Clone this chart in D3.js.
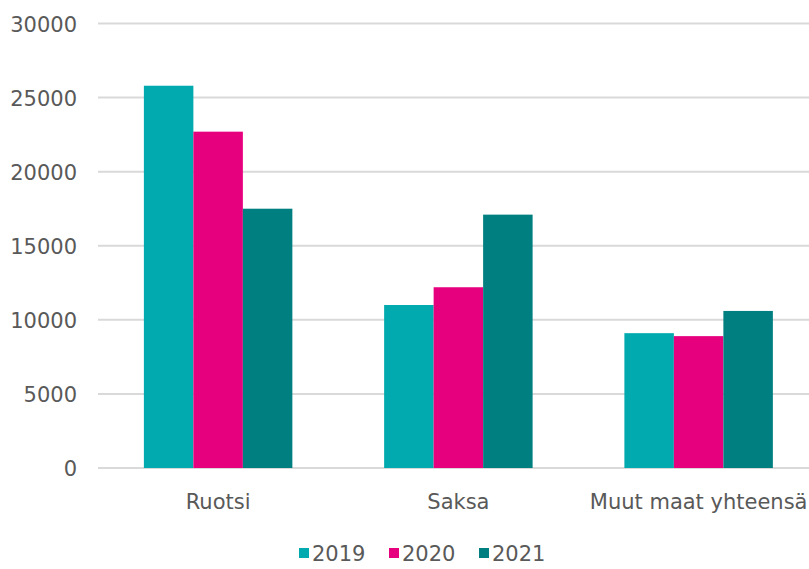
<!DOCTYPE html>
<html>
<head>
<meta charset="utf-8">
<script src="https://cdn.jsdelivr.net/npm/d3@7"></script>
<style>
  html, body { margin: 0; padding: 0; background: #ffffff; }
  svg { display: block; font-family: "DejaVu Sans", Verdana, sans-serif; }
</style>
</head>
<body>
<svg id="chart" width="809" height="569"></svg>
<script>
const categories = ["Ruotsi", "Saksa", "Muut maat yhteensä"];
const seriesNames = ["2019", "2020", "2021"];
const values2019 = [25800, 11000, 9100];
const values2020 = [22700, 12200, 8900];
const values2021 = [17500, 17100, 10600];
const yTicks = [0, 5000, 10000, 15000, 20000, 25000, 30000];
const colors = ["#00aaae", "#e6007e", "#007f80"];

const seriesValues = [values2019, values2020, values2021];
const rows = categories.map((c, i) => ({
  category: c,
  vals: seriesNames.map((s, j) => ({ key: s, value: seriesValues[j][i], color: colors[j] }))
}));

const svg = d3.select("#chart");
const W = 809, H = 569;
const plotLeft = 98, plotRight = 818.75, plotTop = 23.5, plotBottom = 468;

const x0 = d3.scaleBand().domain(categories).range([plotLeft, plotRight])
  .paddingInner(0.382).paddingOuter(0.191);
const x1 = d3.scaleBand().domain(seriesNames).range([0, x0.bandwidth()]).padding(0);
const y = d3.scaleLinear().domain([0, 30000]).range([plotBottom, plotTop]);

// gridlines
svg.append("g").selectAll("line").data(yTicks).join("line")
  .attr("x1", plotLeft).attr("x2", W)
  .attr("y1", d => y(d)).attr("y2", d => y(d))
  .attr("stroke", "#d9d9d9").attr("stroke-width", 2);

// y axis labels
const yAxis = d3.axisLeft(y).tickValues(yTicks).tickSize(0).tickPadding(0).tickFormat(d3.format("d"));
const yg = svg.append("g").attr("transform", `translate(77,0)`).call(yAxis);
yg.select(".domain").remove();
yg.selectAll("text").attr("fill", "#595959").style("font-size", "21px")
  .attr("font-family", "DejaVu Sans, Verdana, sans-serif").attr("dy", "0.36em");

// bars
const groups = svg.append("g").selectAll("g").data(rows).join("g")
  .attr("transform", d => `translate(${x0(d.category)},0)`);
groups.selectAll("rect").data(d => d.vals).join("rect")
  .attr("x", d => x1(d.key))
  .attr("width", x1.bandwidth())
  .attr("y", d => y(d.value))
  .attr("height", d => y(0) - y(d.value))
  .attr("fill", d => d.color);

// x axis labels
const xAxis = d3.axisBottom(x0).tickSize(0).tickPadding(0);
const xg = svg.append("g").attr("transform", `translate(0,${plotBottom})`).call(xAxis);
xg.select(".domain").remove();
xg.selectAll("text").attr("fill", "#595959").style("font-size", "21px")
  .attr("font-family", "DejaVu Sans, Verdana, sans-serif").attr("dy", "0").attr("y", 41);

// legend
const legendX = [299, 389, 479];
const legendY = 553;
const lg = svg.append("g").selectAll("g").data(seriesNames).join("g")
  .attr("transform", (d, i) => `translate(${legendX[i]},${legendY})`);
lg.append("rect").attr("x", 0).attr("y", -5).attr("width", 10).attr("height", 10)
  .attr("fill", (d, i) => colors[i]);
lg.append("text").attr("x", 13).attr("y", 0).attr("dy", "0.36em")
  .attr("fill", "#595959").style("font-size", "21px").text(d => d);
</script>
</body>
</html>
